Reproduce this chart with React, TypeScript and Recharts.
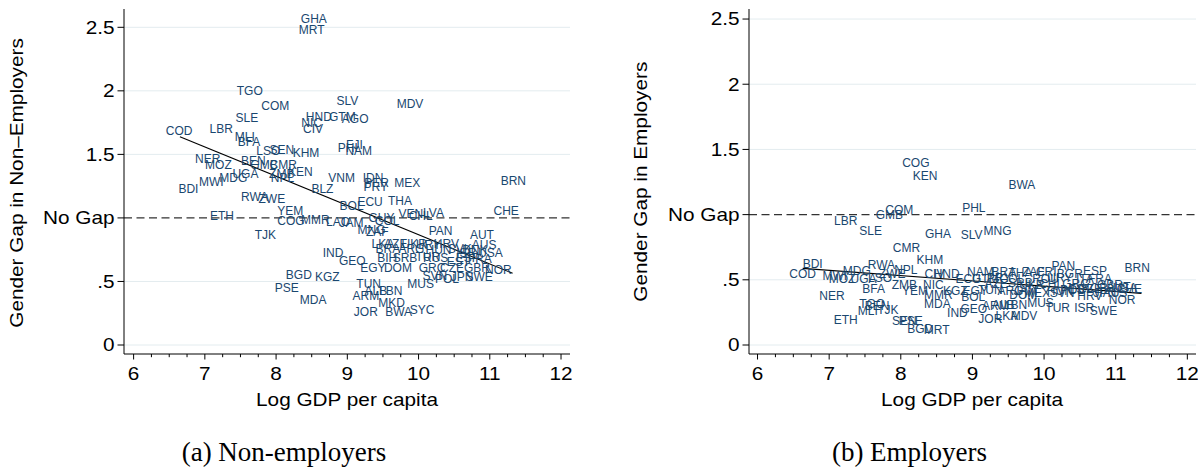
import React from 'react';
import { ScatterChart, Scatter, XAxis, YAxis, ReferenceLine } from 'recharts';

// ---------- Panel (a): non-employers ----------
const nonEmpCodes = [
  'GHA', 'MRT', 'TGO', 'COM', 'SLV', 'MDV', 'SLE', 'HND', 'GTM', 'AGO',
  'NIC', 'CIV', 'COD', 'LBR', 'MLI', 'BFA', 'LSO', 'SEN', 'KHM', 'PHL',
  'FJI', 'NAM', 'NER', 'MOZ', 'BEN', 'GMB', 'CMR', 'KEN', 'ZMB', 'NPL',
  'UGA', 'MDG', 'MWI', 'BDI', 'VNM', 'IDN', 'PER', 'PRY', 'MEX', 'BRN',
  'BLZ', 'RWA', 'ZWE', 'ECU', 'BOL', 'THA', 'ETH', 'CHE', 'YEM', 'COG',
  'MMR', 'LAO', 'JAM', 'GUY', 'COL', 'VEN', 'CHL', 'LVA', 'MNG', 'ZAF',
  'TJK', 'PAN', 'AUT', 'IND', 'GEO', 'BGD', 'KGZ', 'PSE', 'MDA', 'TUN',
  'ARM', 'ALB', 'LBN', 'MKD', 'JOR', 'BWA', 'SYC', 'MUS', 'LKA', 'AZE',
  'UKR', 'URY', 'HRV', 'BRA', 'ARG', 'HUN', 'SVK', 'BIH', 'SRB', 'TUR',
  'RUS', 'EGY', 'DOM', 'GRC', 'CZE', 'GBR', 'NOR', 'SVN', 'POL', 'JPN',
  'SWE', 'AUS', 'DNK', 'USA', 'ESP', 'EST', 'ISR', 'FRA',
];
const nonEmpGdp = [
  8.53, 8.50, 7.63, 7.99, 9.00, 9.88, 7.59, 8.60, 8.93, 9.11,
  8.50, 8.52, 6.64, 7.23, 7.56, 7.62, 7.89, 8.08, 8.42, 9.03,
  9.10, 9.16, 7.04, 7.19, 7.68, 7.83, 8.10, 8.34, 8.08, 8.09,
  7.57, 7.40, 7.09, 6.77, 8.92, 9.36, 9.41, 9.40, 9.84, 11.33,
  8.65, 7.70, 7.94, 9.32, 9.06, 9.74, 7.24, 11.23, 8.20, 8.21,
  8.55, 8.87, 9.06, 9.48, 9.56, 9.89, 10.03, 10.21, 9.34, 9.42,
  7.85, 10.31, 10.89, 8.80, 9.07, 8.32, 8.72, 8.15, 8.52, 9.30,
  9.26, 9.40, 9.61, 9.62, 9.26, 9.72, 10.05, 10.03, 9.50, 9.68,
  9.94, 10.14, 10.39, 9.57, 9.90, 10.28, 10.58, 9.56, 9.81, 10.13,
  10.24, 9.36, 9.71, 10.19, 10.47, 10.82, 11.12, 10.23, 10.40, 10.61,
  10.85, 10.92, 10.79, 11.01, 10.69, 10.56, 10.67, 10.86,
];
const nonEmpGap = [
  2.565, 2.48, 2.00, 1.88, 1.92, 1.90, 1.79, 1.80, 1.80, 1.78,
  1.75, 1.70, 1.69, 1.70, 1.64, 1.60, 1.53, 1.54, 1.51, 1.555,
  1.58, 1.53, 1.47, 1.42, 1.45, 1.42, 1.42, 1.36, 1.35, 1.32,
  1.35, 1.32, 1.285, 1.23, 1.32, 1.32, 1.28, 1.245, 1.28, 1.29,
  1.23, 1.17, 1.15, 1.13, 1.10, 1.135, 1.02, 1.06, 1.06, 0.975,
  0.99, 0.97, 0.96, 1.005, 0.98, 1.03, 1.015, 1.04, 0.91, 0.89,
  0.865, 0.90, 0.87, 0.73, 0.66, 0.556, 0.54, 0.45, 0.36, 0.48,
  0.385, 0.425, 0.425, 0.33, 0.26, 0.26, 0.275, 0.485, 0.80, 0.795,
  0.80, 0.79, 0.80, 0.755, 0.755, 0.75, 0.755, 0.69, 0.69, 0.695,
  0.69, 0.61, 0.61, 0.61, 0.61, 0.61, 0.59, 0.545, 0.52, 0.535,
  0.535, 0.787, 0.75, 0.724, 0.685, 0.653, 0.73, 0.68,
];
// fitted regression line, end points
const nonEmpFitGdp = [6.65, 11.32];
const nonEmpFitGap = [1.639, 0.564];

// ---------- Panel (b): employers ----------
const empCodes = [
  'COG', 'KEN', 'BWA', 'PHL', 'COM', 'GMB', 'LBR', 'SLE', 'GHA', 'SLV',
  'MNG', 'CMR', 'KHM', 'BDI', 'COD', 'RWA', 'NPL', 'MDG', 'MWI', 'MOZ',
  'UGA', 'LSO', 'ZWE', 'ZMB', 'BFA', 'YEM', 'CIV', 'HND', 'NIC', 'MMR',
  'MDA', 'NER', 'TGO', 'BEN', 'MLI', 'TJK', 'ETH', 'SEN', 'PSE', 'BGD',
  'MRT', 'IND', 'KGZ', 'BOL', 'GEO', 'JOR', 'LKA', 'MDV', 'ALB', 'LBN',
  'ARM', 'MUS', 'MEX', 'DOM', 'SVN', 'TUR', 'ISR', 'SWE', 'NOR', 'CHE',
  'BRN', 'HRV', 'PAN', 'NAM', 'BRA', 'THA', 'ZAF', 'CRI', 'BGR', 'ESP',
  'ECU', 'GTM', 'PRY', 'COL', 'ROU', 'URY', 'ITA', 'FRA', 'AZE', 'SRB',
  'UKR', 'CHL', 'GRC', 'GBR', 'AUT', 'USA', 'EGY', 'TUN', 'ARG', 'JAM',
  'HUN', 'POL', 'EST', 'CZE', 'KOR', 'AUS', 'JPN',
];
const empGdp = [
  8.21, 8.34, 9.69, 9.02, 7.98, 7.84, 7.23, 7.58, 8.52, 8.99,
  9.35, 8.08, 8.405, 6.77, 6.63, 7.73, 8.07, 7.385, 7.08, 7.18,
  7.48, 7.71, 7.88, 8.05, 7.62, 8.20, 8.47, 8.64, 8.455, 8.525,
  8.51, 7.04, 7.60, 7.67, 7.54, 7.82, 7.23, 8.05, 8.14, 8.27,
  8.50, 8.79, 8.76, 9.01, 9.02, 9.25, 9.48, 9.72, 9.43, 9.60,
  9.32, 9.95, 9.90, 9.71, 10.25, 10.19, 10.56, 10.83, 11.09, 11.19,
  11.30, 10.64, 10.27, 9.11, 9.44, 9.67, 9.85, 10.03, 10.36, 10.71,
  8.94, 9.18, 9.37, 9.55, 10.02, 10.22, 10.57, 10.78, 9.33, 9.67,
  9.83, 10.10, 10.44, 10.92, 11.04, 11.13, 9.04, 9.25, 9.53, 9.74,
  10.22, 10.39, 10.50, 10.64, 10.71, 10.99, 10.85,
];
const empGap = [
  1.40, 1.30, 1.23, 1.05, 1.035, 0.997, 0.953, 0.88, 0.85, 0.845,
  0.88, 0.75, 0.652, 0.627, 0.545, 0.613, 0.575, 0.57, 0.53, 0.51,
  0.51, 0.52, 0.55, 0.46, 0.43, 0.416, 0.55, 0.55, 0.46, 0.383,
  0.32, 0.378, 0.314, 0.30, 0.263, 0.268, 0.197, 0.19, 0.19, 0.123,
  0.115, 0.25, 0.42, 0.37, 0.28, 0.205, 0.225, 0.225, 0.307, 0.307,
  0.30, 0.327, 0.40, 0.383, 0.40, 0.286, 0.286, 0.26, 0.345, 0.435,
  0.59, 0.378, 0.605, 0.56, 0.565, 0.555, 0.56, 0.565, 0.55, 0.57,
  0.51, 0.505, 0.515, 0.51, 0.505, 0.515, 0.51, 0.505, 0.47, 0.475,
  0.465, 0.47, 0.47, 0.465, 0.45, 0.44, 0.42, 0.425, 0.42, 0.415,
  0.42, 0.425, 0.43, 0.43, 0.44, 0.40, 0.40,
];
const empFitGdp = [6.63, 11.36];
const empFitGap = [0.588, 0.396];

// ---------- axes ----------
const xTickValues = [
  6, 6.25, 6.5, 6.75, 7, 7.25, 7.5, 7.75, 8, 8.25, 8.5, 8.75, 9,
  9.25, 9.5, 9.75, 10, 10.25, 10.5, 10.75, 11, 11.25, 11.5, 11.75, 12,
];
const xMajorTicks = [6, 7, 8, 9, 10, 11, 12];
const yTickValues = [0, 0.5, 1, 1.5, 2, 2.5];
const yTickLabels = ['0', '.5', 'No Gap', '1.5', '2', '2.5'];
const gridValues = [0, 0.5, 1.5, 2, 2.5];

const NAVY = '#1a476f';
const SANS = '"Liberation Sans", Arial, Helvetica, sans-serif';
const STRETCH = 1.18;
const AXIS_FONT = 17.6;

type Pt = { x: number; y: number; code: string };
const buildPoints = (codes: string[], xs: number[], ys: number[]): Pt[] =>
  codes.map((code, i) => ({ code, x: xs[i], y: ys[i] }));

const nonEmpPoints = buildPoints(nonEmpCodes, nonEmpGdp, nonEmpGap);
const empPoints = buildPoints(empCodes, empGdp, empGap);

// horizontally widened axis text
const AxisText = ({ x, y, anchor, rotate = 0, children }: any) => (
  <text
    transform={`translate(${x},${y}) rotate(${rotate}) scale(${STRETCH},1)`}
    textAnchor={anchor}
    fontSize={AXIS_FONT}
    fontFamily={SANS}
    fill="#000"
  >
    {children}
  </text>
);

const XTick = (props: any) => {
  const { x, y, payload } = props;
  const major = xMajorTicks.includes(payload.value);
  return (
    <g>
      <line x1={x} x2={x} y1={y} y2={y + (major ? 5.5 : 3.2)} stroke="#000" strokeWidth={1} />
      {major && (
        <AxisText x={x} y={y + 25.5} anchor="middle">
          {String(payload.value)}
        </AxisText>
      )}
    </g>
  );
};

const YTick = (props: any) => {
  const { x, y, payload } = props;
  const i = yTickValues.indexOf(payload.value);
  return (
    <g>
      <line x1={x - 6.5} x2={x} y1={y} y2={y} stroke="#000" strokeWidth={1} />
      <AxisText x={x - 9.5} y={y + 6.3} anchor="end">
        {yTickLabels[i]}
      </AxisText>
    </g>
  );
};

const CodeLabel = (props: any) => {
  const { cx, cy, payload } = props;
  if (cx == null || cy == null) return <g />;
  return (
    <text
      x={cx}
      y={cy}
      dy="0.36em"
      textAnchor="middle"
      fontSize={12}
      fontFamily={SANS}
      fill={NAVY}
    >
      {payload.code}
    </text>
  );
};

type PanelProps = {
  left: number;
  width: number;
  yAxisWidth: number;
  rightMargin: number;
  xDomain: [number, number];
  yDomain: [number, number];
  points: Pt[];
  fitX: number[];
  fitY: number[];
};

const Panel = ({ left, width, yAxisWidth, rightMargin, xDomain, yDomain, points, fitX, fitY }: PanelProps) => (
  <div style={{ position: 'absolute', left, top: 0 }}>
    <ScatterChart
      width={width}
      height={470}
      margin={{ top: 9, right: rightMargin, bottom: 0, left: 0 }}
    >
      <XAxis
        type="number"
        dataKey="x"
        domain={xDomain}
        allowDataOverflow
        ticks={xTickValues}
        interval={0}
        tick={<XTick />}
        tickLine={false}
        tickSize={0}
        tickMargin={0}
        height={116}
        axisLine={{ stroke: '#000', strokeWidth: 1 }}
      />
      <YAxis
        type="number"
        dataKey="y"
        domain={yDomain}
        allowDataOverflow
        ticks={yTickValues}
        interval={0}
        tick={<YTick />}
        tickLine={false}
        tickSize={0}
        tickMargin={0}
        width={yAxisWidth}
        axisLine={{ stroke: '#000', strokeWidth: 1 }}
      />
      {gridValues.map((v) => (
        <ReferenceLine key={v} y={v} stroke="#e3ecef" strokeWidth={1} />
      ))}
      <ReferenceLine y={1} stroke="#333" strokeWidth={1.1} strokeDasharray="8 4.5" />
      <Scatter data={points} shape={<CodeLabel />} isAnimationActive={false} />
      <ReferenceLine
        segment={[
          { x: fitX[0], y: fitY[0] },
          { x: fitX[1], y: fitY[1] },
        ]}
        stroke="#000"
        strokeWidth={1.1}
      />
    </ScatterChart>
  </div>
);

export default function App() {
  return (
    <div
      style={{
        position: 'absolute',
        left: 0,
        top: 0,
        width: 1198,
        height: 470,
        background: '#fff',
        overflow: 'hidden',
      }}
    >
      <Panel
        left={0}
        width={600}
        yAxisWidth={124}
        rightMargin={30}
        xDomain={[5.865, 12.126]}
        yDomain={[-0.0708, 2.644]}
        points={nonEmpPoints}
        fitX={nonEmpFitGdp}
        fitY={nonEmpFitGap}
      />
      <Panel
        left={600}
        width={598}
        yAxisWidth={149}
        rightMargin={2}
        xDomain={[5.881, 12.121]}
        yDomain={[-0.069, 2.577]}
        points={empPoints}
        fitX={empFitGdp}
        fitY={empFitGap}
      />
      <svg
        width={1198}
        height={470}
        style={{ position: 'absolute', left: 0, top: 0, pointerEvents: 'none' }}
      >
        <AxisText x={347} y={406} anchor="middle">Log GDP per capita</AxisText>
        <AxisText x={972} y={406} anchor="middle">Log GDP per capita</AxisText>
        <AxisText x={22.5} y={183} anchor="middle" rotate={-90}>
          Gender Gap in Non–Employers
        </AxisText>
        <AxisText x={646.5} y={181.7} anchor="middle" rotate={-90}>
          Gender Gap in Employers
        </AxisText>
        <text x={284} y={461} textAnchor="middle" fontSize={27} fontFamily='"Liberation Serif", "Times New Roman", serif' fill="#000">
          (a)  Non-employers
        </text>
        <text x={909.5} y={461} textAnchor="middle" fontSize={27} fontFamily='"Liberation Serif", "Times New Roman", serif' fill="#000">
          (b)  Employers
        </text>
      </svg>
    </div>
  );
}
